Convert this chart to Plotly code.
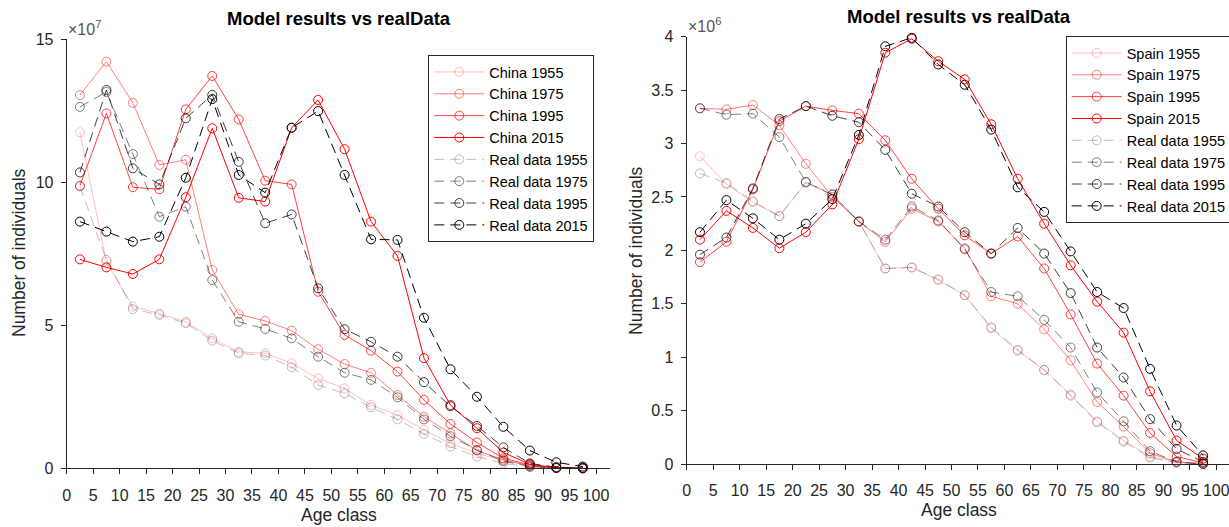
import plotly.graph_objects as go

# Age classes (centre of each 5-year band)
AGE = [2.5, 7.5, 12.5, 17.5, 22.5, 27.5, 32.5, 37.5, 42.5, 47.5,
       52.5, 57.5, 62.5, 67.5, 72.5, 77.5, 82.5, 87.5, 92.5, 97.5]
YEARS = ["1955", "1975", "1995", "2015"]

# China, individuals x 10^7
CHINA_MODEL_1955 = [11.74, 7.22, 5.65, 5.41, 5.12, 4.54, 4.07, 4.02, 3.67, 3.14,
                    2.79, 2.21, 1.86, 1.34, 0.87, 0.52, 0.27, 0.10, 0.02, 0.00]
CHINA_MODEL_1975 = [13.04, 14.21, 12.77, 10.60, 10.78, 6.93, 5.38, 5.15, 4.81, 4.16,
                    3.64, 3.34, 2.56, 1.80, 1.22, 0.62, 0.30, 0.08, 0.01, 0.00]
CHINA_MODEL_1995 = [9.87, 12.40, 9.82, 9.75, 12.54, 13.71, 12.19, 10.05, 9.92, 6.17,
                    4.66, 4.11, 3.38, 2.39, 1.55, 0.90, 0.35, 0.12, 0.02, 0.00]
CHINA_MODEL_2015 = [7.30, 7.02, 6.79, 7.30, 9.47, 11.88, 9.45, 9.32, 11.90, 12.87,
                    11.15, 8.62, 7.42, 3.85, 2.21, 1.40, 0.55, 0.14, 0.02, 0.01]
CHINA_REAL_1955 = [9.85, 7.28, 5.56, 5.36, 5.07, 4.46, 4.02, 3.94, 3.53, 2.91,
                   2.62, 2.13, 1.71, 1.20, 0.76, 0.41, 0.17, 0.05, 0.01, 0.00]
CHINA_REAL_1975 = [12.63, 13.15, 10.98, 8.79, 9.14, 6.58, 5.12, 4.87, 4.54, 3.90,
                   3.34, 3.09, 2.48, 1.71, 1.12, 0.64, 0.25, 0.06, 0.01, 0.00]
CHINA_REAL_1995 = [10.34, 13.22, 10.48, 9.92, 12.23, 13.05, 10.71, 8.56, 8.87, 6.29,
                   4.86, 4.42, 3.90, 3.01, 2.17, 1.48, 0.73, 0.17, 0.04, 0.01]
CHINA_REAL_2015 = [8.62, 8.27, 7.92, 8.09, 10.15, 12.90, 10.25, 9.63, 11.90, 12.48,
                   10.25, 8.00, 7.98, 5.26, 3.46, 2.50, 1.45, 0.62, 0.21, 0.06]

# Spain, individuals x 10^6
SPAIN_MODEL_1955 = [2.88, 2.62, 2.45, 2.32, 2.63, 2.52, 2.27, 1.83, 1.84, 1.72,
                    1.58, 1.27, 1.06, 0.88, 0.65, 0.40, 0.22, 0.07, 0.02, 0.01]
SPAIN_MODEL_1975 = [3.33, 3.32, 3.36, 3.17, 2.81, 2.50, 2.27, 2.08, 2.39, 2.27,
                    2.02, 1.57, 1.50, 1.26, 0.97, 0.58, 0.35, 0.10, 0.02, 0.00]
SPAIN_MODEL_1995 = [1.89, 2.08, 2.57, 3.21, 3.35, 3.31, 3.28, 3.03, 2.67, 2.39,
                    2.14, 1.97, 2.13, 1.83, 1.40, 0.94, 0.64, 0.29, 0.07, 0.01]
SPAIN_MODEL_2015 = [2.10, 2.37, 2.21, 2.02, 2.17, 2.43, 3.04, 3.85, 3.98, 3.77,
                    3.60, 3.18, 2.67, 2.25, 1.86, 1.52, 1.23, 0.68, 0.22, 0.05]
SPAIN_REAL_1955 = [2.72, 2.63, 2.46, 2.32, 2.64, 2.53, 2.27, 1.83, 1.84, 1.73,
                   1.58, 1.28, 1.07, 0.88, 0.64, 0.39, 0.21, 0.06, 0.01, 0.00]
SPAIN_REAL_1975 = [3.33, 3.27, 3.28, 3.06, 2.64, 2.52, 2.27, 2.10, 2.41, 2.28,
                   2.01, 1.61, 1.57, 1.35, 1.09, 0.67, 0.40, 0.12, 0.02, 0.00]
SPAIN_REAL_1995 = [1.96, 2.12, 2.58, 3.23, 3.35, 3.26, 3.20, 2.94, 2.53, 2.41,
                   2.17, 1.97, 2.21, 1.97, 1.60, 1.09, 0.81, 0.42, 0.14, 0.02]
SPAIN_REAL_2015 = [2.17, 2.47, 2.30, 2.10, 2.25, 2.48, 3.08, 3.91, 3.99, 3.74,
                   3.55, 3.13, 2.59, 2.36, 1.99, 1.61, 1.46, 0.89, 0.36, 0.08]

ALPHAS = [0.25, 0.5, 0.75, 1.0]
W, H = 1229, 527
FONT = "Liberation Sans, Arial, Helvetica, sans-serif"
AX_COLOR = "#262626"

fig = go.Figure()


def add_panel(model_series, real_series, country, xa, ya, legend):
    for year, series, a in zip(YEARS, model_series, ALPHAS):
        col = f"rgba(255,0,0,{a})"
        fig.add_trace(go.Scatter(
            x=AGE, y=series, mode="lines+markers", name=f"{country} {year}",
            line=dict(color=col, width=1),
            marker=dict(symbol="circle-open", size=9, color=col, line=dict(width=1, color=col)),
            xaxis=xa, yaxis=ya, legend=legend, cliponaxis=False))
    for year, series, a in zip(YEARS, real_series, ALPHAS):
        col = f"rgba(0,0,0,{a})"
        fig.add_trace(go.Scatter(
            x=AGE, y=series, mode="lines+markers", name=f"Real data {year}",
            line=dict(color=col, width=1, dash="10px,6px"),
            marker=dict(symbol="circle-open", size=9, color=col, line=dict(width=1, color=col)),
            xaxis=xa, yaxis=ya, legend=legend, cliponaxis=False))


add_panel([CHINA_MODEL_1955, CHINA_MODEL_1975, CHINA_MODEL_1995, CHINA_MODEL_2015],
          [CHINA_REAL_1955, CHINA_REAL_1975, CHINA_REAL_1995, CHINA_REAL_2015],
          "China", "x", "y", "legend")
add_panel([SPAIN_MODEL_1955, SPAIN_MODEL_1975, SPAIN_MODEL_1995, SPAIN_MODEL_2015],
          [SPAIN_REAL_1955, SPAIN_REAL_1975, SPAIN_REAL_1995, SPAIN_REAL_2015],
          "Spain", "x2", "y2", "legend2")


def px_x(p):
    return p / W


def px_y(p):
    return 1 - p / H


axis_common = dict(
    showline=True, linecolor=AX_COLOR, linewidth=1, ticks="outside", ticklen=5,
    tickcolor=AX_COLOR, tickwidth=1, showgrid=False, zeroline=False, mirror=False,
    tickfont=dict(family=FONT, size=16, color=AX_COLOR), automargin=False,
    ticklabeloverflow="allow",
)

# Left panel: x 66.7..610 px, y 39..468 px
fig.update_layout(
    xaxis=dict(domain=[px_x(66.7), px_x(610.3)], range=[0, 102.7], tick0=0, dtick=5,
               anchor="y", ticklabelstandoff=7, **axis_common),
    yaxis=dict(domain=[px_y(468.3), px_y(39)], range=[0, 15], tick0=0, dtick=5,
               anchor="x", ticklabelstandoff=4, **axis_common),
    xaxis2=dict(domain=[px_x(686.7), 1.0], range=[0, 102.4], tick0=0, dtick=5,
                anchor="y2", ticklabelstandoff=7, **axis_common),
    yaxis2=dict(domain=[px_y(464), px_y(36.7)], range=[0, 4], tick0=0, dtick=0.5,
                anchor="x2", ticklabelstandoff=4, **axis_common),
)

legend_common = dict(
    bgcolor="white", bordercolor=AX_COLOR, borderwidth=1,
    font=dict(family=FONT, size=14.5, color="black"),
    xanchor="left", yanchor="top", tracegroupgap=0, itemwidth=50,
    itemclick=False, itemdoubleclick=False,
)
fig.update_layout(
    legend=dict(x=px_x(428.3), y=px_y(55), **legend_common),
    legend2=dict(x=px_x(1065.7), y=px_y(36), **legend_common),
)

annotations = []
for cx, cy in [(339, 18), (958.8, 17)]:
    annotations.append(dict(
        x=px_x(cx), y=px_y(cy), xref="paper", yref="paper", showarrow=False,
        text="<b>Model results vs realData</b>", xanchor="center", yanchor="middle",
        font=dict(family=FONT, size=18.5, color="black")))
for cx, cy in [(339, 515), (958.8, 510)]:
    annotations.append(dict(
        x=px_x(cx), y=px_y(cy), xref="paper", yref="paper", showarrow=False,
        text="Age class", xanchor="center", yanchor="middle",
        font=dict(family=FONT, size=17.5, color=AX_COLOR)))
for cx, cy in [(19, 253), (636, 251)]:
    annotations.append(dict(
        x=px_x(cx), y=px_y(cy), xref="paper", yref="paper", showarrow=False,
        text="Number of individuals", textangle=-90, xanchor="center", yanchor="middle",
        font=dict(family=FONT, size=17.5, color=AX_COLOR)))
for cx, cy, exp in [(66, 28, "7"), (686, 25, "6")]:
    annotations.append(dict(
        x=px_x(cx), y=px_y(cy), xref="paper", yref="paper", showarrow=False,
        text=f"\u00d710<sup>{exp}</sup>", xanchor="left", yanchor="middle",
        font=dict(family=FONT, size=16, color="#555555")))

fig.update_layout(
    width=W, height=H, autosize=False,
    margin=dict(l=0, r=0, t=0, b=0, pad=0, autoexpand=False),
    paper_bgcolor="white", plot_bgcolor="white",
    annotations=annotations, showlegend=True,
)

fig.write_html("out.html", config={"displayModeBar": False})
